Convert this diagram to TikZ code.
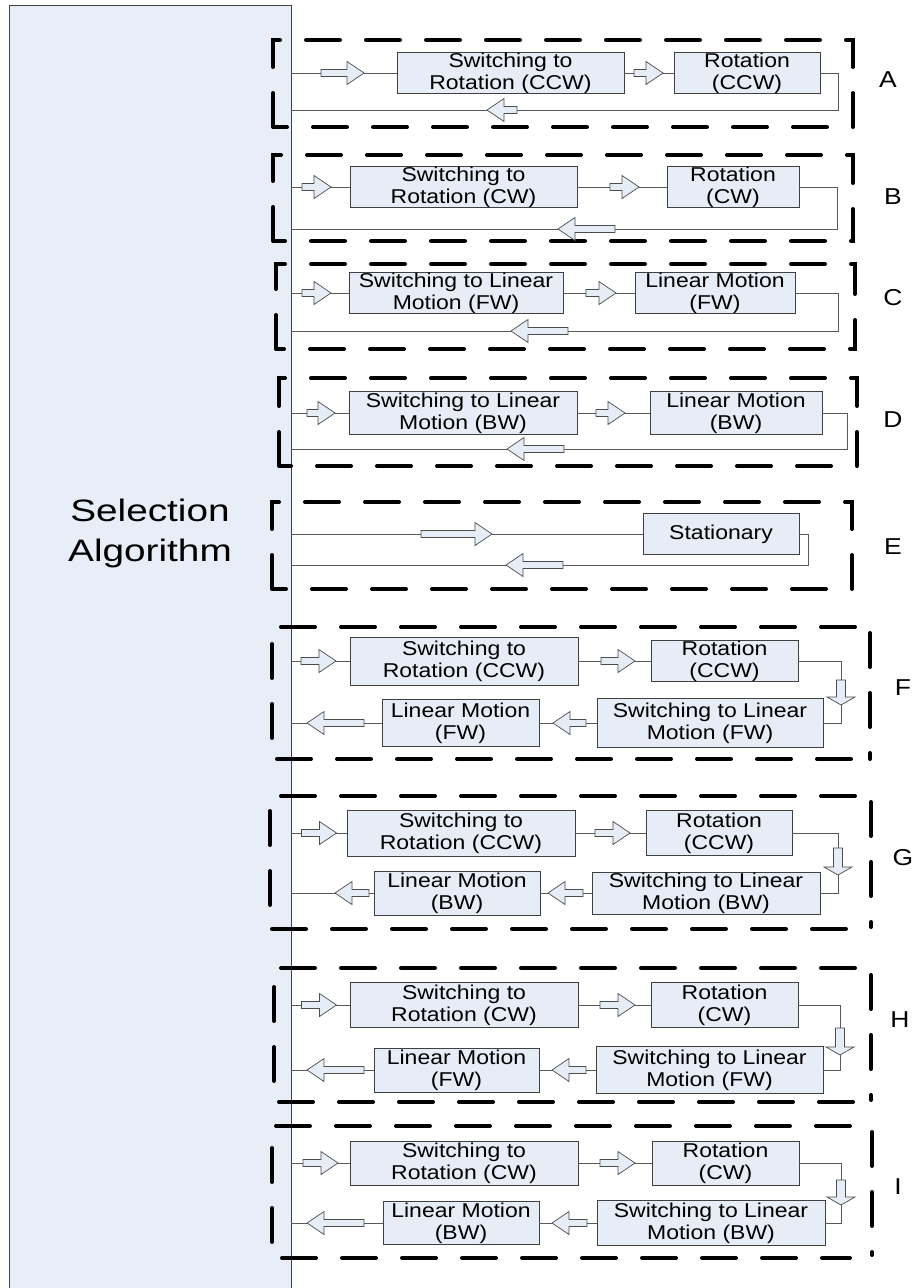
\documentclass[tikz,border=0pt]{standalone}
\usepackage{fontspec}
\usetikzlibrary{positioning}
\newfontfamily\boxfont[FakeStretch=1.15]{Liberation Sans}
\newfontfamily\tagfont[FakeStretch=1.15]{Liberation Sans}
\newfontfamily\selfont[FakeStretch=1.25]{Liberation Sans}
\definecolor{boxblue}{RGB}{230,237,247}
\definecolor{panelblue}{RGB}{232,238,247}
\tikzset{
  selpanel/.style={draw=black!75, fill=panelblue, line width=1pt},
  seltext/.style={align=center, font=\selfont\fontsize{31}{40}\selectfont},
  modebox/.style={draw=black!75, fill=boxblue, line width=0.9pt, align=center, inner sep=0pt, font=\boxfont\fontsize{20}{22}\selectfont},
  sz/.style 2 args={minimum width=#1pt, minimum height=#2pt},
  grpbox/.style={line width=4pt, line cap=round, dash pattern=on 34pt off 26pt},
  link/.style={draw=black!65, line width=0.9pt},
  arrowbody/.style={draw=black!70, fill=boxblue, line width=0.7pt},
  tag/.style={font=\tagfont\fontsize{23}{26}\selectfont},
  pics/barrow/.style={code={\draw[arrowbody] (0,-3.5) -- ({#1-17},-3.5) -- ({#1-17},-11.5) -- (#1,0) -- ({#1-17},11.5) -- ({#1-17},3.5) -- (0,3.5) -- cycle;}},
  pics/darrow/.style={code={\draw[arrowbody] (-4.5,0) -- (-4.5,{#1-8}) -- (-14,{#1-8}) -- (0,#1) -- (14,{#1-8}) -- (4.5,{#1-8}) -- (4.5,0) -- cycle;}},
}
\begin{document}
\begin{tikzpicture}[x=1pt, y=-1pt]
	\useasboundingbox (0,0) rectangle (918,1288);
	\clip (0,0) rectangle (918,1288);

	% Selection algorithm panel
	\draw[selpanel] (9,5) rectangle (291,1300);
	\node[seltext] (selText) at (150,533) {Selection\\Algorithm};

	% A: rotation ccw
	\draw[grpbox] (273,127) -- (273,40) -- (853,40) -- (853,127) -- cycle;
	\node[modebox, sz={227}{40}] (a1) at (510.5,73) {Switching to\\Rotation (CCW)};
	\node[modebox, sz={146}{40}] (a2) at (747,73) {Rotation\\(CCW)};
	\coordinate (aIn) at (291,73);
	\coordinate (aTurn) at (838,110);
	\coordinate (aOut) at (291,110);
	\draw[link] (aIn) -- (a1);
	\draw[link] (a1) -- (a2);
	\draw[link] (a2) -| (aTurn) -- (aOut);
	\pic at (321,73) {barrow=43};
	\pic at (634,73) {barrow=29};
	\pic[rotate=180] at (517,110) {barrow=30};
	\node[tag] (tagA) at (888,80) {A};

	% B: rotation cw
	\draw[grpbox] (273,241) -- (273,155) -- (853,155) -- (853,241) -- cycle;
	\node[modebox, sz={227}{39}] (b1) at (463.5,187) {Switching to\\Rotation (CW)};
	\node[modebox, sz={132}{39}] (b2) at (733,187) {Rotation\\(CW)};
	\coordinate (bIn) at (291,187);
	\coordinate (bTurn) at (837,229);
	\coordinate (bOut) at (291,229);
	\draw[link] (bIn) -- (b1);
	\draw[link] (b1) -- (b2);
	\draw[link] (b2) -| (bTurn) -- (bOut);
	\pic at (302,187) {barrow=29};
	\pic at (610,187) {barrow=29};
	\pic[rotate=180] at (615,229) {barrow=57};
	\node[tag] (tagB) at (893,197) {B};

	% C: linear motion fw
	\draw[grpbox] (276,349) -- (276,264) -- (855,264) -- (855,349) -- cycle;
	\node[modebox, sz={214}{40}] (c1) at (456,293) {Switching to Linear\\Motion (FW)};
	\node[modebox, sz={160}{37}] (c2) at (715,293) {Linear Motion\\(FW)};
	\coordinate (cIn) at (291,293);
	\coordinate (cTurn) at (838,331);
	\coordinate (cOut) at (291,331);
	\draw[link] (cIn) -- (c1);
	\draw[link] (c1) -- (c2);
	\draw[link] (c2) -| (cTurn) -- (cOut);
	\pic at (302,293) {barrow=29};
	\pic at (586,293) {barrow=30};
	\pic[rotate=180] at (568,331) {barrow=57};
	\node[tag] (tagC) at (893,298) {C};

	% D: linear motion bw
	\draw[grpbox] (279,466) -- (279,378) -- (857,378) -- (857,466) -- cycle;
	\node[modebox, sz={228}{43}] (d1) at (463,413) {Switching to Linear\\Motion (BW)};
	\node[modebox, sz={172}{43}] (d2) at (736,413) {Linear Motion\\(BW)};
	\coordinate (dIn) at (291,413);
	\coordinate (dTurn) at (847,449);
	\coordinate (dOut) at (291,449);
	\draw[link] (dIn) -- (d1);
	\draw[link] (d1) -- (d2);
	\draw[link] (d2) -| (dTurn) -- (dOut);
	\pic at (307,413) {barrow=28};
	\pic at (596,413) {barrow=29};
	\pic[rotate=180] at (564,449) {barrow=57};
	\node[tag] (tagD) at (893,420) {D};

	% E: stationary
	\draw[grpbox] (272,589) -- (272,502) -- (852,502) -- (852,589) -- cycle;
	\node[modebox, sz={156}{41}] (e1) at (721,534) {Stationary};
	\coordinate (eIn) at (291,534);
	\coordinate (eTurn) at (808,565);
	\coordinate (eOut) at (291,565);
	\draw[link] (eIn) -- (e1);
	\draw[link] (e1) -| (eTurn) -- (eOut);
	\pic at (421,534) {barrow=71};
	\pic[rotate=180] at (563,565) {barrow=57};
	\node[tag] (tagE) at (893,547) {E};

	% F: rotation ccw, then linear fw
	\draw[grpbox] (855,627) -- (272,627) -- (272,759) -- (855,759);
	\draw[grpbox] (870,633) -- (870,759);
	\node[modebox, sz={228}{48}] (f1) at (464,661) {Switching to\\Rotation (CCW)};
	\node[modebox, sz={147}{41}] (f2) at (724.5,661) {Rotation\\(CCW)};
	\node[modebox, sz={226}{49}] (f3) at (710,723) {Switching to Linear\\Motion (FW)};
	\node[modebox, sz={157}{47}] (f4) at (460.5,723) {Linear Motion\\(FW)};
	\coordinate (fIn) at (291,661);
	\coordinate (fTurn) at (841,723);
	\coordinate (fOut) at (291,723);
	\draw[link] (fIn) -- (f1);
	\draw[link] (f1) -- (f2);
	\draw[link] (f2) -| (fTurn) -- (f3);
	\draw[link] (f3) -- (f4);
	\draw[link] (f4) -- (fOut);
	\pic at (301,661) {barrow=35};
	\pic at (601,661) {barrow=34};
	\pic at (841,680) {darrow=25};
	\pic[rotate=180] at (586,723) {barrow=33};
	\pic[rotate=180] at (364,723) {barrow=57};
	\node[tag] (tagF) at (903,688) {F};

	% G: rotation ccw, then linear bw
	\draw[grpbox] (855,796) -- (270,796) -- (270,929) -- (855,929);
	\draw[grpbox] (871,802) -- (871,927);
	\node[modebox, sz={228}{46}] (g1) at (461,833) {Switching to\\Rotation (CCW)};
	\node[modebox, sz={146}{45}] (g2) at (719,833) {Rotation\\(CCW)};
	\node[modebox, sz={228}{42}] (g3) at (706,893) {Switching to Linear\\Motion (BW)};
	\node[modebox, sz={166}{44}] (g4) at (457,893) {Linear Motion\\(BW)};
	\coordinate (gIn) at (291,833);
	\coordinate (gTurn) at (838,893);
	\coordinate (gOut) at (291,893);
	\draw[link] (gIn) -- (g1);
	\draw[link] (g1) -- (g2);
	\draw[link] (g2) -| (gTurn) -- (g3);
	\draw[link] (g3) -- (g4);
	\draw[link] (g4) -- (gOut);
	\pic at (301.5,833) {barrow=35};
	\pic at (595,833) {barrow=35};
	\pic at (838,848) {darrow=27};
	\pic[rotate=180] at (583,893) {barrow=35};
	\pic[rotate=180] at (369,893) {barrow=34};
	\node[tag] (tagG) at (903,858) {G};

	% H: rotation cw, then linear fw
	\draw[grpbox] (855,968) -- (274,968) -- (274,1102) -- (855,1102);
	\draw[grpbox] (871,975) -- (871,1100);
	\node[modebox, sz={228}{45}] (h1) at (464,1005) {Switching to\\Rotation (CW)};
	\node[modebox, sz={147}{45}] (h2) at (724.5,1005) {Rotation\\(CW)};
	\node[modebox, sz={227}{47}] (h3) at (709.5,1070) {Switching to Linear\\Motion (FW)};
	\node[modebox, sz={165}{44}] (h4) at (456.5,1070) {Linear Motion\\(FW)};
	\coordinate (hIn) at (291,1005);
	\coordinate (hTurn) at (840,1070);
	\coordinate (hOut) at (291,1070);
	\draw[link] (hIn) -- (h1);
	\draw[link] (h1) -- (h2);
	\draw[link] (h2) -| (hTurn) -- (h3);
	\draw[link] (h3) -- (h4);
	\draw[link] (h4) -- (hOut);
	\pic at (301.5,1005) {barrow=35};
	\pic at (600,1005) {barrow=35};
	\pic at (840,1028) {darrow=27};
	\pic[rotate=180] at (586,1070) {barrow=34};
	\pic[rotate=180] at (364,1070) {barrow=57};
	\node[tag] (tagH) at (900,1020) {H};

	% I: rotation cw, then linear bw
	\draw[grpbox] (850,1126) -- (272,1126) -- (272,1258) -- (850,1258);
	\draw[grpbox] (872,1132) -- (872,1255);
	\node[modebox, sz={228}{44}] (i1) at (464,1163) {Switching to\\Rotation (CW)};
	\node[modebox, sz={147}{44}] (i2) at (725.5,1163) {Rotation\\(CW)};
	\node[modebox, sz={228}{45}] (i3) at (711,1223) {Switching to Linear\\Motion (BW)};
	\node[modebox, sz={156}{43}] (i4) at (461,1223) {Linear Motion\\(BW)};
	\coordinate (iIn) at (291,1163);
	\coordinate (iTurn) at (841,1223);
	\coordinate (iOut) at (291,1223);
	\draw[link] (iIn) -- (i1);
	\draw[link] (i1) -- (i2);
	\draw[link] (i2) -| (iTurn) -- (i3);
	\draw[link] (i3) -- (i4);
	\draw[link] (i4) -- (iOut);
	\pic at (303,1163) {barrow=35};
	\pic at (600,1163) {barrow=35};
	\pic at (841,1180) {darrow=25};
	\pic[rotate=180] at (587,1223) {barrow=35};
	\pic[rotate=180] at (364,1223) {barrow=57};
	\node[tag] (tagI) at (898,1187) {I};
\end{tikzpicture}
\end{document}
